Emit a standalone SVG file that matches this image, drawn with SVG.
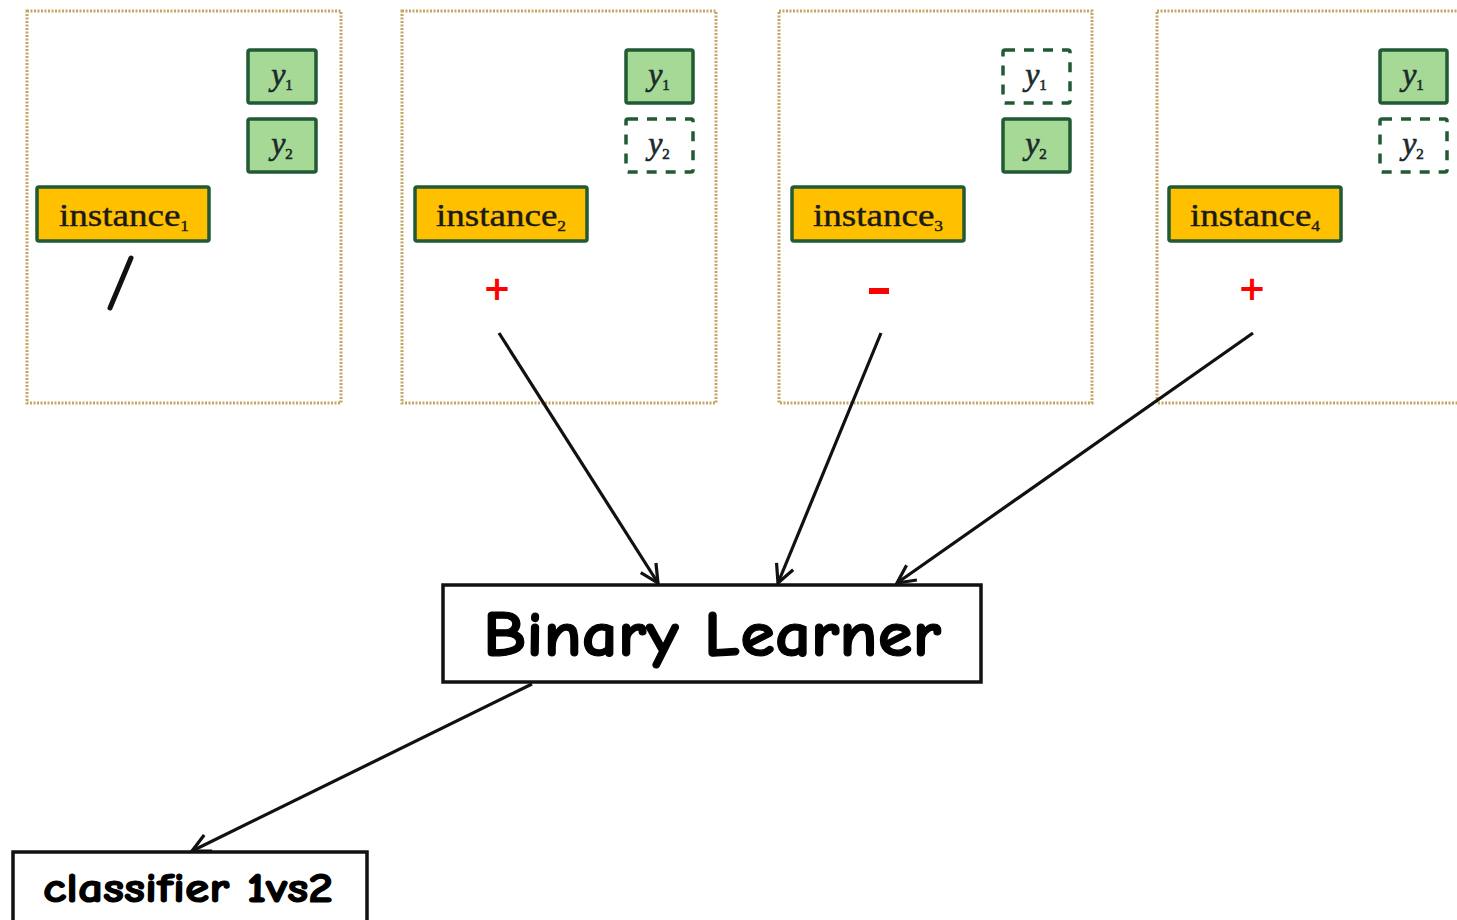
<svg xmlns="http://www.w3.org/2000/svg" width="1457" height="920" viewBox="0 0 1457 920">
  <style>
    .panel { fill: #ffffff; stroke: #c4a664; stroke-width: 3; stroke-dasharray: 2 1.5; }
    .lab { fill: #a6d996; stroke: #215a34; stroke-width: 3.5; }
    .labx { fill: #ffffff; stroke: #215a34; stroke-width: 3.5; stroke-dasharray: 10 9; }
    .inst { fill: #ffc000; stroke: #215a34; stroke-width: 3.5; }
    .ytxt { font-family: "Liberation Serif", "DejaVu Serif", serif; font-style: italic; font-size: 32px; fill: #1b2a2a; stroke: #1b2a2a; stroke-width: 0.6; text-anchor: middle; }
    .sub { font-size: 15px; font-style: normal; }
    .itxt { font-family: "Liberation Serif", "DejaVu Serif", serif; font-size: 32px; fill: #1a1a1a; stroke: #1a1a1a; stroke-width: 0.4; }
    .sign { font-family: "DejaVu Sans", sans-serif; font-weight: bold; fill: #ff0000; text-anchor: middle; }
    .box { fill: #ffffff; stroke: #111111; stroke-width: 3.5; }
    .btxt { font-family: "Comic Neue", "DejaVu Sans", sans-serif; font-weight: bold; fill: #000000; stroke: #000000; stroke-width: 1.2; }
    .conn { stroke: #111111; stroke-width: 3.2; fill: none; }
  </style>
  <defs>
    <marker id="arrow" viewBox="0 0 24 24" refX="22" refY="12" markerWidth="24" markerHeight="24" markerUnits="userSpaceOnUse" orient="auto">
      <path d="M4,3 L22,12 L4,21" fill="none" stroke="#111111" stroke-width="3.2"/>
    </marker>
  </defs>

  <rect width="1457" height="920" fill="#ffffff"/>

  <!-- panel 1 -->
  <g id="panel1">
    <rect class="panel" x="27" y="11" width="314" height="392"/>
    <rect class="lab" x="248" y="50" width="68" height="53" rx="2"/>
    <text class="ytxt" x="282" y="85">y<tspan class="sub" dy="5">1</tspan></text>
    <rect class="lab" x="248" y="119" width="68" height="53" rx="2"/>
    <text class="ytxt" x="282" y="154">y<tspan class="sub" dy="5">2</tspan></text>
    <rect class="inst" x="37" y="187" width="172" height="54" rx="2"/>
    <text class="itxt" x="59" y="226" textLength="130" lengthAdjust="spacingAndGlyphs">instance<tspan class="sub" dy="5">1</tspan></text>
    <line x1="131" y1="258" x2="110" y2="308" stroke="#111111" stroke-width="5" stroke-linecap="round"/>
  </g>

  <!-- panel 2 -->
  <g id="panel2">
    <rect class="panel" x="402" y="11" width="314" height="392"/>
    <rect class="lab" x="626" y="50" width="67" height="53" rx="2"/>
    <text class="ytxt" x="659" y="85">y<tspan class="sub" dy="5">1</tspan></text>
    <rect class="labx" x="626" y="119" width="67" height="53" rx="2"/>
    <text class="ytxt" x="659" y="154">y<tspan class="sub" dy="5">2</tspan></text>
    <rect class="inst" x="415" y="187" width="172" height="54" rx="2"/>
    <text class="itxt" x="436" y="226" textLength="130" lengthAdjust="spacingAndGlyphs">instance<tspan class="sub" dy="5">2</tspan></text>
    <text class="sign" x="497" y="300" font-size="34">+</text>
  </g>

  <!-- panel 3 -->
  <g id="panel3">
    <rect class="panel" x="779" y="11" width="313" height="392"/>
    <rect class="labx" x="1003" y="50" width="67" height="53" rx="2"/>
    <text class="ytxt" x="1036" y="85">y<tspan class="sub" dy="5">1</tspan></text>
    <rect class="lab" x="1003" y="119" width="67" height="53" rx="2"/>
    <text class="ytxt" x="1036" y="154">y<tspan class="sub" dy="5">2</tspan></text>
    <rect class="inst" x="792" y="187" width="172" height="54" rx="2"/>
    <text class="itxt" x="813" y="226" textLength="130" lengthAdjust="spacingAndGlyphs">instance<tspan class="sub" dy="5">3</tspan></text>
    <rect x="869" y="288" width="20" height="6" fill="#ff0000"/>
  </g>

  <!-- panel 4 -->
  <g id="panel4">
    <rect class="panel" x="1157" y="11" width="320" height="392"/>
    <rect class="lab" x="1380" y="50" width="67" height="53" rx="2"/>
    <text class="ytxt" x="1413" y="85">y<tspan class="sub" dy="5">1</tspan></text>
    <rect class="labx" x="1380" y="119" width="67" height="53" rx="2"/>
    <text class="ytxt" x="1413" y="154">y<tspan class="sub" dy="5">2</tspan></text>
    <rect class="inst" x="1169" y="187" width="172" height="54" rx="2"/>
    <text class="itxt" x="1190" y="226" textLength="130" lengthAdjust="spacingAndGlyphs">instance<tspan class="sub" dy="5">4</tspan></text>
    <text class="sign" x="1252" y="300" font-size="34">+</text>
  </g>

  <!-- learner -->
  <g id="learner">
    <rect class="box" x="443" y="585" width="538" height="97"/>
    <text class="btxt" x="483" y="656" font-size="64" textLength="458" lengthAdjust="spacingAndGlyphs">Binary Learner</text>
  </g>

  <!-- output classifier -->
  <g id="classifier">
    <rect class="box" x="13" y="852" width="354" height="80"/>
    <text class="btxt" x="43" y="902" font-size="42" textLength="290" lengthAdjust="spacingAndGlyphs">classifier 1vs2</text>
  </g>

  <!-- connectors -->
  <g id="connectors">
    <line class="conn" x1="499" y1="333" x2="658" y2="583" marker-end="url(#arrow)"/>
    <line class="conn" x1="881" y1="333" x2="778" y2="583" marker-end="url(#arrow)"/>
    <line class="conn" x1="1253" y1="333" x2="897" y2="583" marker-end="url(#arrow)"/>
    <line class="conn" x1="532" y1="684" x2="192" y2="851" marker-end="url(#arrow)"/>
  </g>
</svg>
